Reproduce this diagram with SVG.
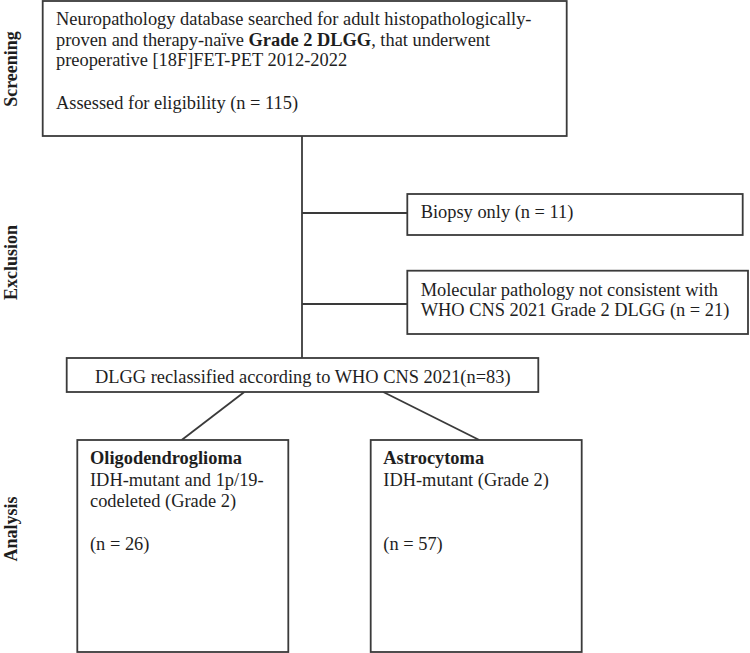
<svg xmlns="http://www.w3.org/2000/svg" width="750" height="653" viewBox="0 0 750 653">
<style>
.box{fill:#fff;stroke:#3a3a3a;stroke-width:1.8}
.ln{stroke:#3a3a3a;stroke-width:1.8;fill:none}
text{font-family:"Liberation Serif","Times New Roman",serif;font-size:18.4px;fill:#1e1e1e}
.b{font-weight:bold}
.side{font-weight:bold;text-anchor:middle;font-size:18px}
</style>
<rect width="750" height="653" fill="#fff"/>
<g id="labels">
<text class="side" transform="translate(16.5,69) rotate(-90)">Screening</text>
<text class="side" transform="translate(16.5,262.5) rotate(-90)">Exclusion</text>
<text class="side" transform="translate(16.5,529) rotate(-90)">Analysis</text>
</g>
<g id="connectors">
<line class="ln" x1="302" y1="136" x2="302" y2="358"/>
<line class="ln" x1="302" y1="213" x2="407.3" y2="213"/>
<line class="ln" x1="302" y1="304" x2="407.3" y2="304"/>
<line class="ln" x1="244.3" y1="392" x2="181.7" y2="440"/>
<line class="ln" x1="383.3" y1="392" x2="479.3" y2="440"/>
</g>
<g id="screening">
<rect class="box" x="42.7" y="1" width="524" height="135"/>
<text x="56" y="25">Neuropathology database searched for adult histopathologically-</text>
<text x="56" y="45.7">proven and therapy-naïve <tspan class="b">Grade 2 DLGG</tspan>, that underwent</text>
<text x="56" y="66.4">preoperative [18F]FET-PET 2012-2022</text>
<text x="56" y="109">Assessed for eligibility (n = 115)</text>
</g>
<g id="biopsy">
<rect class="box" x="407.3" y="194" width="335.4" height="41"/>
<text x="420.7" y="218.3">Biopsy only (n = 11)</text>
</g>
<g id="molecular">
<rect class="box" x="407.3" y="270.7" width="340.7" height="63.3"/>
<text x="420.7" y="295.7">Molecular pathology not consistent with</text>
<text x="420.7" y="315.7">WHO CNS 2021 Grade 2 DLGG (n = 21)</text>
</g>
<g id="reclassified">
<rect class="box" x="66.7" y="358" width="471.6" height="34"/>
<text x="95" y="382.7">DLGG reclassified according to WHO CNS 2021(n=83)</text>
</g>
<g id="oligodendroglioma">
<rect class="box" x="77.3" y="440" width="211" height="212"/>
<text x="90" y="464" class="b">Oligodendroglioma</text>
<text x="90" y="485.5">IDH-mutant and 1p/19-</text>
<text x="90" y="507">codeleted (Grade 2)</text>
<text x="90" y="550">(n = 26)</text>
</g>
<g id="astrocytoma">
<rect class="box" x="370.7" y="440" width="211" height="212"/>
<text x="383.3" y="464" class="b">Astrocytoma</text>
<text x="383.3" y="485.5">IDH-mutant (Grade 2)</text>
<text x="383.3" y="550">(n = 57)</text>
</g>
</svg>
